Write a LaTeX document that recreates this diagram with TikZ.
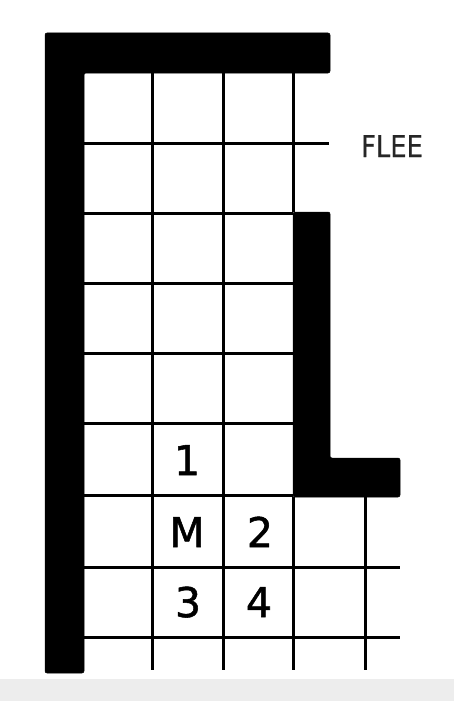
\documentclass[tikz,border=0pt]{standalone}
\usepackage{fontspec}
\setmainfont{DejaVu Sans}
\newfontfamily\heavyfont[FakeBold=1.3]{DejaVu Sans}
\newfontfamily\midfont[FakeBold=0.6]{DejaVu Sans}
\begin{document}
\begin{tikzpicture}[x=1pt,y=-1pt,
  wall/.style={fill=black,draw=black,line width=0.5pt,rounded corners=2pt},
  gridline/.style={draw=black,line width=3pt},
  cell/.style={anchor=base,inner sep=0pt,font=\heavyfont\fontsize{41}{41}\selectfont},
  lbl/.style={anchor=base,inner sep=0pt,font=\midfont\fontsize{30}{30}\selectfont,xscale=0.86,text=black!85}]
\useasboundingbox (0,0) rectangle (454,701);
\fill[white] (0,0) rectangle (454,701);
\fill[black!7] (0,679) rectangle (454,701);
% grid lines
\foreach \x in {152,223} \draw[gridline] (\x,73) -- (\x,670);
\draw[gridline] (293,73) -- (293,212);
\draw[gridline] (293,497) -- (293,670);
\draw[gridline] (365,497) -- (365,670);
\draw[gridline] (84,143) -- (329,143);
\foreach \y in {213,283,353,423,495} \draw[gridline] (84,\y) -- (293,\y);
\foreach \y in {567,637} \draw[gridline] (84,\y) -- (400,\y);
% walls
\path[wall] (45,33) -- (330,33) -- (330,73) -- (84,73) -- (84,673) -- (45,673) -- cycle;
\path[wall] (293,212) -- (330,212) -- (330,458) -- (400,458) -- (400,497) -- (293,497) -- cycle;
% labels
\node[lbl] (flee) at (392,157) {FLEE};
\node[cell] (one) at (187,475) {1};
\node[cell] (m) at (187,547) {M};
\node[cell] (two) at (260,547) {2};
\node[cell] (three) at (188,617) {3};
\node[cell] (four) at (259,617) {4};
\end{tikzpicture}
\end{document}
